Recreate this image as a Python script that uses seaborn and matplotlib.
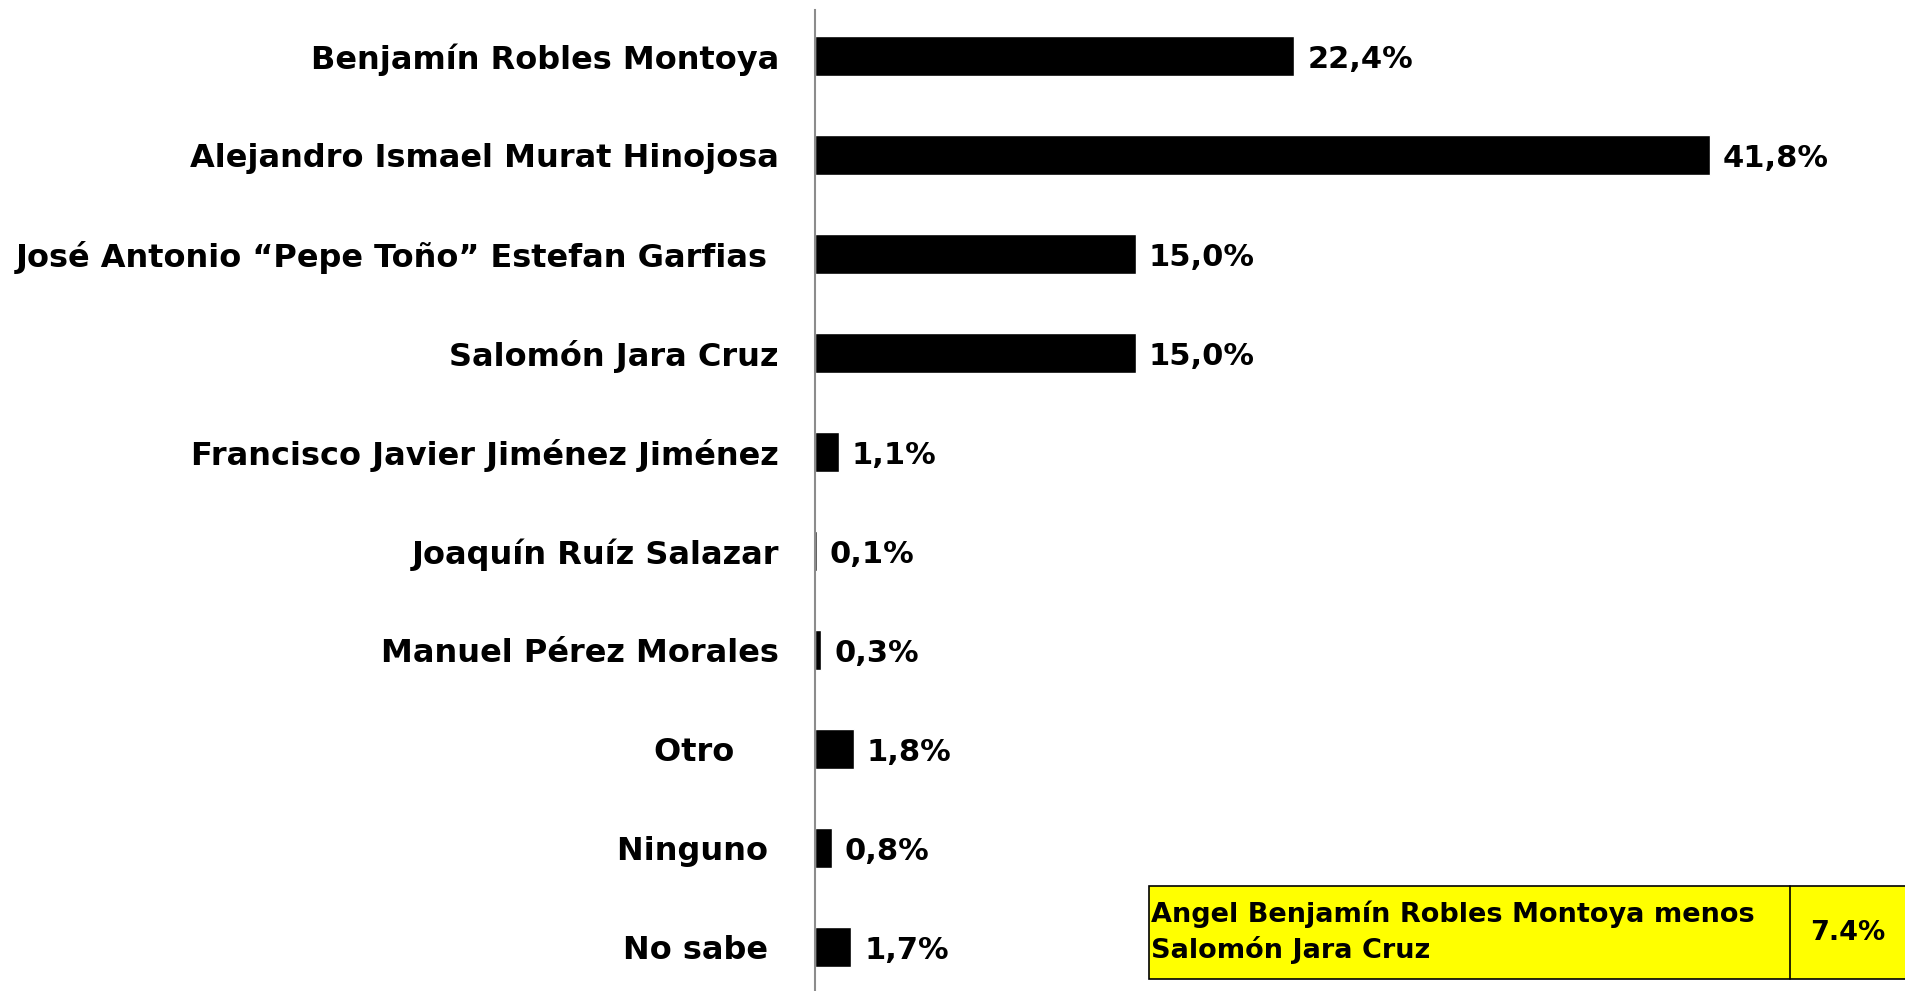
import pandas as pd
import matplotlib.pyplot as plt
import seaborn as sns
from matplotlib.patches import Rectangle

# Data
candidates = [
    'Benjamín Robles Montoya',
    'Alejandro Ismael Murat Hinojosa',
    'José Antonio “Pepe Toño” Estefan Garfias ',
    'Salomón Jara Cruz',
    'Francisco Javier Jiménez Jiménez',
    'Joaquín Ruíz Salazar',
    'Manuel Pérez Morales',
    'Otro    ',
    'Ninguno ',
    'No sabe ',
]
shares = [22.4, 41.8, 15.0, 15.0, 1.1, 0.1, 0.3, 1.8, 0.8, 1.7]
box_text = 'Angel Benjamín Robles Montoya menos\nSalomón Jara Cruz'
box_value = '7.4%'

df = pd.DataFrame({'candidato': candidates, 'pct': shares})

sns.set_style('white')
plt.rcParams['font.family'] = ['DejaVu Sans']
plt.rcParams['text.color'] = 'black'

fig = plt.figure(figsize=(19.05, 9.91), dpi=100)
ax = fig.add_axes([815 / 1905, 0.0, 1 - 815 / 1905, 1 - 10 / 991])

sns.barplot(data=df, x='pct', y='candidato', color='black', width=0.4,
            saturation=1, ax=ax)

ax.set_xlim(0, 1090 / 21.4)
ax.set_ylim(9.444, -0.465)
ax.set_xlabel('')
ax.set_ylabel('')
ax.set_xticks([])
for s in ['top', 'right', 'bottom']:
    ax.spines[s].set_visible(False)
ax.spines['left'].set_color('#8c8c8c')
ax.spines['left'].set_linewidth(1.5)
ax.tick_params(axis='y', length=0, pad=26)
for lab in ax.get_yticklabels():
    lab.set_fontsize(23)
    lab.set_fontweight('bold')
    lab.set_color('black')

for i, v in enumerate(shares):
    ax.text(v + 0.6, i + 0.03, f'{v:.1f}%'.replace('.', ','), va='center', ha='left',
            fontsize=22, fontweight='bold', color='black')

# yellow summary box
x0, y0, h = 1149 / 1905, 12 / 991, 93 / 991
xdiv = 1790 / 1905
fig.add_artist(Rectangle((x0, y0), 1 - x0 + 0.01, h, transform=fig.transFigure,
                         facecolor='#ffff00', edgecolor='black', linewidth=1.2))
fig.add_artist(plt.Line2D([xdiv, xdiv], [y0, y0 + h], transform=fig.transFigure,
                          color='black', linewidth=1.2))
fig.text(x0 + 0.001, y0 + h / 2, box_text, va='center', ha='left',
         fontsize=19.5, fontweight='bold', linespacing=1.35, color='black')
fig.text(1848 / 1905, y0 + h / 2, box_value, va='center', ha='center',
         fontsize=19.5, fontweight='bold', color='black')

fig.savefig('out.png', dpi=100)
plt.close()
